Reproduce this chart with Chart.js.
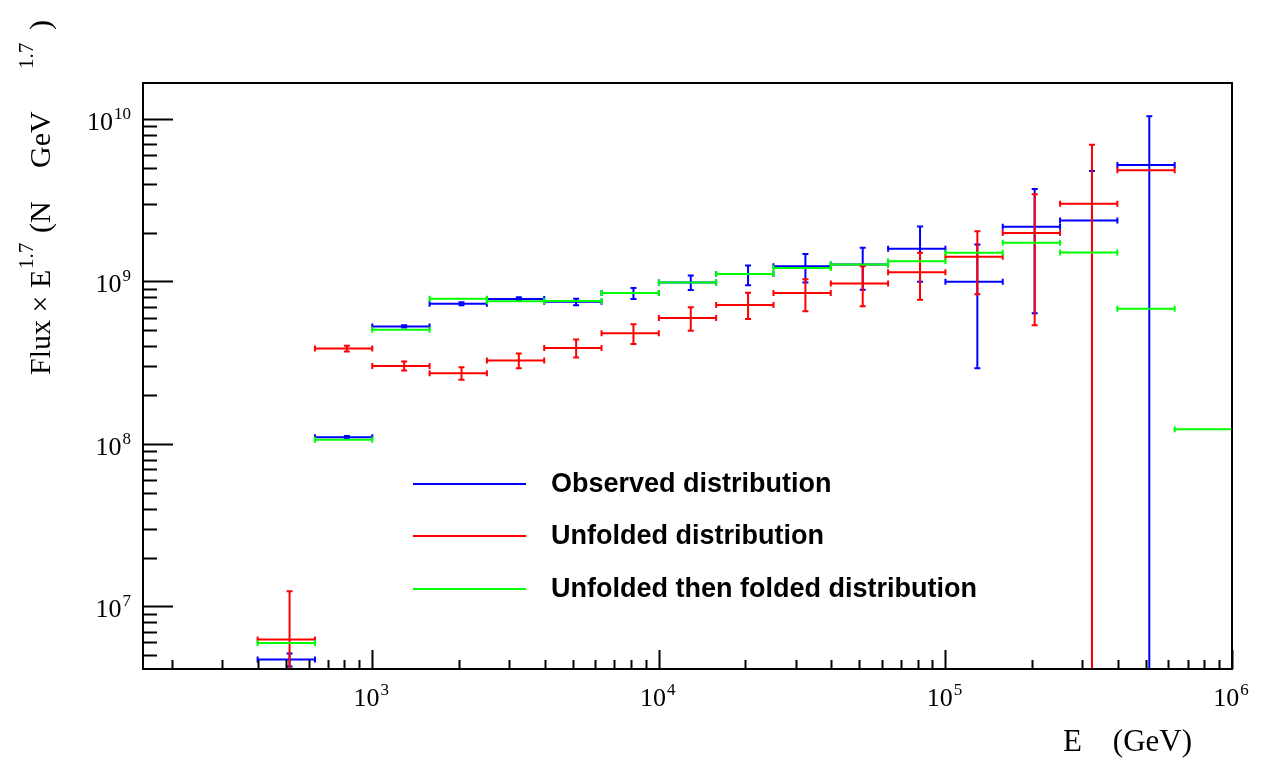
<!DOCTYPE html>
<html>
<head>
<meta charset="utf-8">
<script src="https://cdn.jsdelivr.net/npm/chart.js@4.4.1/dist/chart.umd.min.js"></script>
<style>
  html, body { margin: 0; padding: 0; background: #ffffff; }
  #wrap { position: relative; width: 1265px; height: 761px; }
</style>
</head>
<body>
<div id="wrap"><canvas id="c"></canvas></div>
<script>
// ---- Data ----
const binEdges = [398.1, 631.0, 1000, 1584.9, 2511.9, 3981.1, 6309.6, 10000, 15848.9, 25118.9,
                  39810.7, 63095.7, 100000, 158489.3, 251188.6, 398107.2, 630957.3, 1000000];

const observed     = [4.71e6, 1.10e8, 5.29e8, 7.30e8, 7.80e8, 7.50e8, 8.50e8, 9.87e8, 1.11e9, 1.24e9, 1.27e9, 1.59e9, 9.96e8, 2.17e9, 2.37e9, 5.20e9, null];
const observedLow  = [4.27e6, 1.08e8, 5.20e8, 7.15e8, 7.60e8, 7.13e8, 7.80e8, 8.87e8, 9.47e8, 9.86e8, 8.90e8, 9.96e8, 2.92e8, 6.38e8, 1e5, 1e5, null];
const observedHigh = [5.13e6, 1.12e8, 5.38e8, 7.45e8, 8.00e8, 7.84e8, 9.10e8, 1.09e9, 1.256e9, 1.476e9, 1.61e9, 2.18e9, 1.69e9, 3.71e9, 4.79e9, 1.04e10, null];

const unfolded     = [6.25e6, 3.87e8, 3.02e8, 2.72e8, 3.26e8, 3.90e8, 4.80e8, 5.96e8, 7.16e8, 8.49e8, 9.73e8, 1.14e9, 1.42e9, 1.99e9, 3.01e9, 4.83e9, null];
const unfoldedLow  = [1e5, 3.71e8, 2.83e8, 2.48e8, 2.92e8, 3.41e8, 4.12e8, 4.98e8, 5.88e8, 6.55e8, 7.03e8, 7.73e8, 8.34e8, 5.37e8, 1e5, 4.83e9, null];
const unfoldedHigh = [1.24e7, 4.02e8, 3.22e8, 2.96e8, 3.60e8, 4.39e8, 5.45e8, 6.93e8, 8.53e8, 1.03e9, 1.24e9, 1.50e9, 2.04e9, 3.44e9, 6.93e9, 4.83e9, null];

const refolded     = [5.96e6, 1.06e8, 5.05e8, 7.83e8, 7.55e8, 7.59e8, 8.50e8, 9.85e8, 1.11e9, 1.21e9, 1.27e9, 1.33e9, 1.50e9, 1.73e9, 1.51e9, 6.79e8, 1.23e8];

const seriesNames = ['Observed distribution', 'Unfolded distribution', 'Unfolded then folded distribution'];

const xTickValues = [1e3, 1e4, 1e5, 1e6];
const xTickExponents = ['3', '4', '5', '6'];
const yTickValues = [1e7, 1e8, 1e9, 1e10];
const yTickExponents = ['7', '8', '9', '10'];

// ---- Build datasets ----
function makePoints(vals, lo, hi) {
  const pts = [];
  for (let i = 0; i < vals.length; i++) {
    if (vals[i] == null) continue;
    const a = binEdges[i], b = binEdges[i + 1];
    pts.push({
      x: (a + b) / 2, y: vals[i],
      xMin: a, xMax: b,
      yMin: lo ? lo[i] : vals[i], yMax: hi ? hi[i] : vals[i]
    });
  }
  return pts;
}

const colors = ['#0000ff', '#ff0000', '#00ff00'];

const datasets = [
  { label: seriesNames[0], data: makePoints(observed, observedLow, observedHigh), borderColor: colors[0] },
  { label: seriesNames[1], data: makePoints(unfolded, unfoldedLow, unfoldedHigh), borderColor: colors[1] },
  { label: seriesNames[2], data: makePoints(refolded, null, null), borderColor: colors[2] }
].map(d => Object.assign(d, { pointRadius: 0, showLine: false, backgroundColor: d.borderColor }));

const SERIF = '"Liberation Serif", "Times New Roman", serif';
const SANS = '"Liberation Sans", Arial, sans-serif';

function drawPow(ctx, x, y, base, exp, align, size, supSize, raise) {
  ctx.font = size + 'px ' + SERIF;
  const w1 = ctx.measureText(base).width;
  ctx.font = supSize + 'px ' + SERIF;
  const w2 = ctx.measureText(exp).width;
  const total = w1 + w2 + 1;
  let x0 = x;
  if (align === 'center') x0 = x - total / 2;
  else if (align === 'right') x0 = x - total;
  ctx.textAlign = 'left';
  ctx.textBaseline = 'alphabetic';
  ctx.font = size + 'px ' + SERIF;
  ctx.fillText(base, x0, y);
  ctx.font = supSize + 'px ' + SERIF;
  ctx.fillText(exp, x0 + w1 + 1, y - raise);
}

const rootPlugin = {
  id: 'rootStyle',
  afterDatasetsDraw(chart) {
    const ctx = chart.ctx;
    const xs = chart.scales.x, ys = chart.scales.y;
    const area = chart.chartArea;

    // error bars
    ctx.save();
    ctx.beginPath();
    ctx.rect(area.left, area.top, area.right - area.left, area.bottom - area.top);
    ctx.clip();
    ctx.lineWidth = 2;
    ctx.lineCap = 'butt';
    const cap = 3;
    chart.data.datasets.forEach(ds => {
      ctx.strokeStyle = ds.borderColor;
      ds.data.forEach(p => {
        const px = xs.getPixelForValue(p.x);
        const py = ys.getPixelForValue(p.y);
        const xl = xs.getPixelForValue(p.xMin);
        const xr = xs.getPixelForValue(p.xMax);
        ctx.beginPath();
        ctx.moveTo(xl, py); ctx.lineTo(xr, py);
        ctx.moveTo(xl, py - cap); ctx.lineTo(xl, py + cap);
        ctx.moveTo(xr, py - cap); ctx.lineTo(xr, py + cap);
        ctx.stroke();
        if (p.yMin < p.y || p.yMax > p.y) {
          const yt = ys.getPixelForValue(p.yMax);
          const yb = ys.getPixelForValue(p.yMin);
          ctx.beginPath();
          ctx.moveTo(px, yt); ctx.lineTo(px, yb);
          ctx.moveTo(px - cap, yt); ctx.lineTo(px + cap, yt);
          ctx.moveTo(px - cap, yb); ctx.lineTo(px + cap, yb);
          ctx.stroke();
        }
      });
    });
    ctx.restore();

    // frame
    ctx.save();
    ctx.strokeStyle = '#000';
    ctx.lineWidth = 2;
    ctx.strokeRect(area.left, area.top, area.right - area.left, area.bottom - area.top);

    // x ticks
    ctx.beginPath();
    for (let e = 2; e <= 6; e++) {
      for (let k = 1; k <= 9; k++) {
        const v = k * Math.pow(10, e);
        if (v < xs.min || v > xs.max) continue;
        const px = Math.round(xs.getPixelForValue(v)) + 0.5;
        const len = k === 1 ? 19 : 9;
        ctx.moveTo(px, area.bottom); ctx.lineTo(px, area.bottom - len);
      }
    }
    // y ticks
    for (let e = 6; e <= 10; e++) {
      for (let k = 1; k <= 9; k++) {
        const v = k * Math.pow(10, e);
        if (v < ys.min || v > ys.max) continue;
        const py = Math.round(ys.getPixelForValue(v)) + 0.5;
        const len = k === 1 ? 30 : 14;
        ctx.moveTo(area.left, py); ctx.lineTo(area.left + len, py);
      }
    }
    ctx.lineWidth = 2;
    ctx.stroke();

    // tick labels
    ctx.fillStyle = '#000';
    xTickValues.forEach((v, i) => {
      const px = xs.getPixelForValue(v);
      drawPow(ctx, px - 1, 706, '10', xTickExponents[i], 'center', 26, 17, 11);
    });
    yTickValues.forEach((v, i) => {
      const py = ys.getPixelForValue(v);
      drawPow(ctx, 131, py + 11, '10', yTickExponents[i], 'right', 26, 17, 11);
    });

    // x title
    ctx.font = '31px ' + SERIF;
    ctx.textBaseline = 'alphabetic';
    ctx.textAlign = 'left';
    ctx.fillText('E', 1063, 751);
    ctx.textAlign = 'right';
    ctx.fillText('(GeV)', 1192, 751);

    // y title (rotated): pieces placed along the rotated baseline
    ctx.save();
    ctx.translate(50, 375);
    ctx.rotate(-Math.PI / 2);
    ctx.textAlign = 'left';
    const big = '30px ' + SERIF, small = '21px ' + SERIF;
    const pieces = [
      ['Flux \u00D7 E', big, 0, 0],
      ['1.7', small, 17, 106],
      ['(N', big, 0, 142],
      ['GeV', big, 0, 207],
      ['1.7', small, 17, 306],
      [')', big, 0, 345]
    ];
    pieces.forEach(([t, f, r, off]) => {
      ctx.font = f;
      ctx.fillText(t, off, -r);
    });
    ctx.restore();

    // legend
    const legendY = [484, 536, 589];
    chart.data.datasets.forEach((ds, i) => {
      ctx.strokeStyle = ds.borderColor;
      ctx.lineWidth = 2;
      ctx.beginPath();
      ctx.moveTo(413, legendY[i]); ctx.lineTo(526, legendY[i]);
      ctx.stroke();
      ctx.fillStyle = '#000';
      ctx.font = 'bold 27px ' + SANS;
      ctx.textAlign = 'left';
      ctx.textBaseline = 'middle';
      ctx.fillText(ds.label, 551, legendY[i] + 1);
    });
    ctx.restore();
  }
};

new Chart(document.getElementById('c'), {
  type: 'scatter',
  data: { datasets },
  options: {
    responsive: true,
    maintainAspectRatio: false,
    animation: false,
    events: [],
    layout: { padding: { left: 143, top: 83, right: 33, bottom: 92 } },
    plugins: { legend: { display: false }, tooltip: { enabled: false } },
    scales: {
      x: { type: 'logarithmic', min: 158.5, max: 1e6, display: false },
      y: { type: 'logarithmic', min: 4.12e6, max: 1.665e10, display: false }
    }
  },
  plugins: [rootPlugin]
});
</script>
</body>
</html>
